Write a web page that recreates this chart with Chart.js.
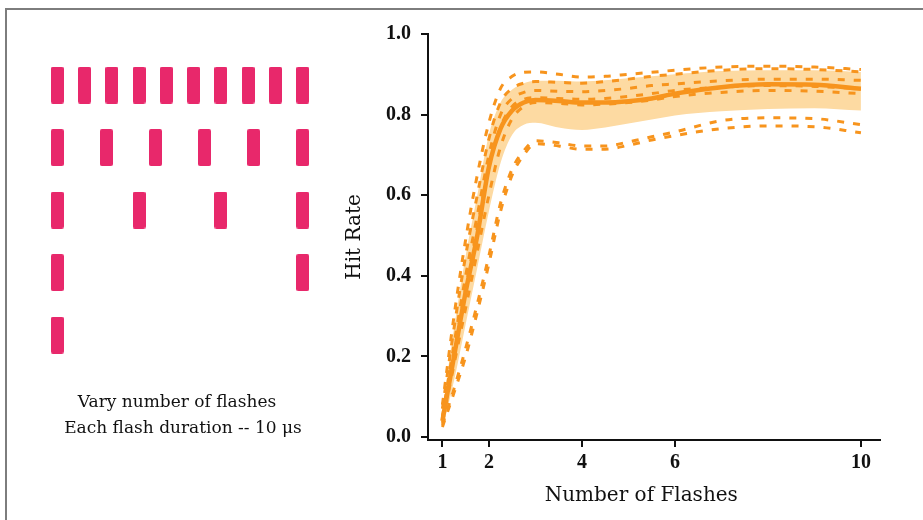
<!DOCTYPE html>
<html><head><meta charset="utf-8">
<script src="https://cdn.jsdelivr.net/npm/chart.js@4.4.1/dist/chart.umd.min.js"></script>
<style>
html,body{margin:0;padding:0;background:#fff;width:923px;height:520px;overflow:hidden;position:relative}
#frame{position:absolute;left:5px;top:8px;width:940px;height:540px;border-top:2px solid #7d7d7d;border-left:2px solid #7d7d7d;box-sizing:border-box}
#left{position:absolute;left:30px;top:7px}
#right{position:absolute;left:330px;top:0}
.cap{position:absolute;font-family:'DejaVu Serif';font-size:17px;line-height:20px;color:#111;white-space:nowrap;transform:translateX(-50%)}
</style></head><body>
<div id="frame"></div>
<canvas id="left" width="300" height="400"></canvas>
<canvas id="right" width="593" height="520"></canvas>
<div class="cap" style="left:177px;top:391px">Vary number of flashes</div>
<div class="cap" style="left:183px;top:417px">Each flash duration -- 10 μs</div>
<script>
// ---- left panel: flash trains ----
const flashRows = [10, 6, 4, 2, 1];
const flashSlots = [
  [0, 1, 2, 3, 4, 5, 6, 7, 8, 9],
  [0, 1.8, 3.6, 5.4, 7.2, 9],
  [0, 3, 6, 9],
  [0, 9],
  [0]
];

// ---- right panel: hit rate vs number of flashes ----
const xFlashes  = [1, 1.25, 1.5, 1.75, 2, 2.25, 2.5, 2.75, 3, 3.5, 4, 4.5, 5, 5.5, 6, 7, 8, 9, 10];
const meanHit   = [0.04, 0.2, 0.36, 0.5, 0.67, 0.765, 0.81, 0.83, 0.836, 0.834, 0.83, 0.83, 0.833, 0.84, 0.852, 0.868, 0.875, 0.874, 0.864];
const bandUpper = [0.07, 0.27, 0.45, 0.6, 0.75, 0.83, 0.862, 0.878, 0.884, 0.884, 0.882, 0.885, 0.89, 0.895, 0.9, 0.908, 0.91, 0.91, 0.906];
const bandLower = [0.02, 0.14, 0.28, 0.42, 0.56, 0.68, 0.75, 0.775, 0.78, 0.768, 0.762, 0.768, 0.778, 0.788, 0.798, 0.808, 0.814, 0.816, 0.81];
const runA = [0.08, 0.3, 0.49, 0.65, 0.78, 0.865, 0.895, 0.905, 0.906, 0.9, 0.893, 0.895, 0.9, 0.905, 0.91, 0.918, 0.92, 0.918, 0.912];
const runB = [0.07, 0.27, 0.45, 0.6, 0.74, 0.83, 0.865, 0.878, 0.882, 0.88, 0.878, 0.882, 0.888, 0.895, 0.9, 0.91, 0.914, 0.912, 0.906];
const runC = [0.05, 0.23, 0.4, 0.55, 0.7, 0.8, 0.84, 0.855, 0.86, 0.858, 0.857, 0.86, 0.865, 0.872, 0.876, 0.884, 0.888, 0.888, 0.885];
const runD = [0.045, 0.21, 0.37, 0.52, 0.67, 0.77, 0.82, 0.838, 0.842, 0.84, 0.838, 0.84, 0.845, 0.852, 0.86, 0.868, 0.872, 0.87, 0.864];
const runG = [0.035, 0.18, 0.32, 0.46, 0.6, 0.72, 0.79, 0.82, 0.83, 0.828, 0.824, 0.826, 0.83, 0.836, 0.845, 0.855, 0.86, 0.858, 0.852];
const runE = [0.03, 0.12, 0.22, 0.33, 0.45, 0.58, 0.665, 0.71, 0.735, 0.73, 0.722, 0.722, 0.732, 0.745, 0.757, 0.785, 0.792, 0.79, 0.775];
const runF = [0.025, 0.11, 0.2, 0.31, 0.43, 0.56, 0.65, 0.7, 0.728, 0.722, 0.714, 0.714, 0.724, 0.737, 0.748, 0.765, 0.772, 0.77, 0.755];
const xTicks = [1, 2, 4, 6, 10];
const yTicks = [0, 0.2, 0.4, 0.6, 0.8, 1.0];

// bar glyph for a flash
const PINK = '#E8286B';
const flashImg = document.createElement('canvas');
flashImg.width = 13; flashImg.height = 37;
{
  const c = flashImg.getContext('2d');
  c.fillStyle = PINK;
  c.beginPath();
  if (c.roundRect) c.roundRect(0, 0, 13, 37, 2); else c.rect(0, 0, 13, 37);
  c.fill();
}

new Chart(document.getElementById('left'), {
  type: 'scatter',
  data: {
    datasets: flashSlots.map((slots, r) => ({
      label: flashRows[r] + ' flashes',
      data: slots.map(s => ({x: s, y: r})),
      pointStyle: flashImg,
      pointRadius: 6,
      pointHoverRadius: 6
    }))
  },
  options: {
    responsive: false, animation: false,
    layout: {padding: 0, autoPadding: false},
    plugins: {legend: {display: false}, tooltip: {enabled: false}},
    scales: {
      x: {type: 'linear', display: false, min: -1, max: 10},
      y: {type: 'linear', display: false, reverse: true, min: -1.25, max: 5.15}
    }
  }
});

const ORANGE = '#F7941D';
const BAND = '#FDDAA2';
const mk = vals => xFlashes.map((x, i) => ({x: x, y: vals[i]}));
const runs = [runA, runB, runC, runD, runG, runE, runF];
const tickFont = {family: "'Liberation Serif'", size: 20, weight: 'bold'};

new Chart(document.getElementById('right'), {
  type: 'line',
  data: {
    datasets: [
      {label: 'Mean', data: mk(meanHit), borderColor: ORANGE, borderWidth: 4.5, order: 0, fill: false},
      ...runs.map((r, i) => ({label: 'Run ' + (i + 1), data: mk(r), borderColor: ORANGE, borderWidth: 3, borderDash: [7, 9], order: 1, fill: false})),
      {label: 'Band lower', data: mk(bandLower), borderWidth: 0, borderColor: 'rgba(0,0,0,0)', order: 2, fill: false},
      {label: 'Band upper', data: mk(bandUpper), borderWidth: 0, borderColor: 'rgba(0,0,0,0)', order: 2, fill: '-1', backgroundColor: BAND}
    ]
  },
  options: {
    responsive: false, animation: false,
    layout: {padding: {top: 34, right: 43, left: 0, bottom: 0}},
    elements: {point: {radius: 0, hoverRadius: 0}, line: {cubicInterpolationMode: 'monotone'}},
    plugins: {legend: {display: false}, tooltip: {enabled: false}},
    scales: {
      x: {
        type: 'linear', min: 0.69, max: 10.41,
        afterBuildTicks: s => { s.ticks = xTicks.map(v => ({value: v})); },
        afterFit: s => { s.height = 80; },
        grid: {drawOnChartArea: false, tickLength: 7, color: '#111', lineWidth: 2},
        border: {display: true, color: '#111', width: 2},
        ticks: {font: tickFont, color: '#111', padding: 4, maxRotation: 0, autoSkip: false},
        title: {display: true, text: 'Number of Flashes    ', color: '#111', font: {family: "'DejaVu Serif'", size: 20}, padding: {top: 0, bottom: 12}}
      },
      y: {
        type: 'linear', min: -0.0075, max: 1.0,
        afterBuildTicks: s => { s.ticks = yTicks.map(v => ({value: v})); },
        afterFit: s => { s.width = 98; },
        grid: {drawOnChartArea: false, tickLength: 7, color: '#111', lineWidth: 2},
        border: {display: true, color: '#111', width: 2},
        ticks: {font: tickFont, color: '#111', padding: 10, callback: v => Number(v).toFixed(1)},
        title: {display: true, text: 'Hit Rate', color: '#111', font: {family: "'DejaVu Serif'", size: 20}, padding: {top: 13, bottom: 0}}
      }
    }
  }
});
</script>
</body></html>
